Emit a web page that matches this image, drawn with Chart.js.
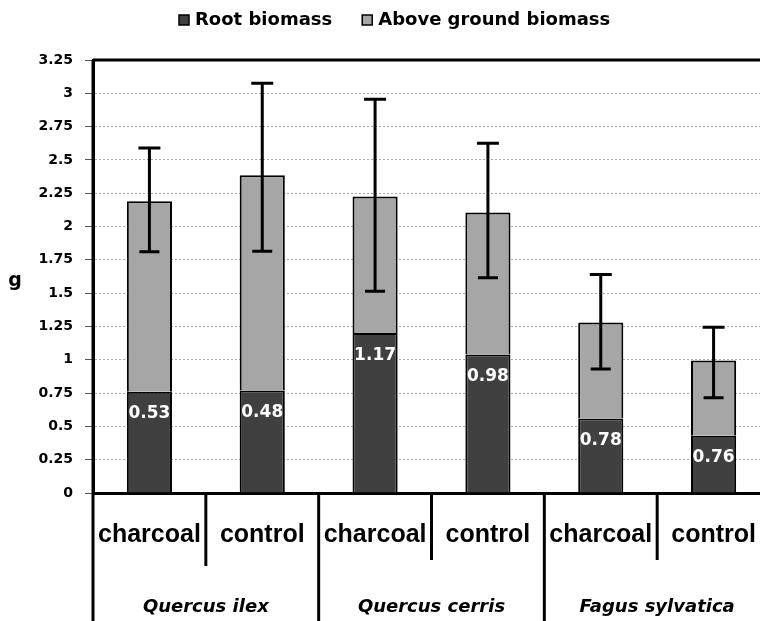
<!DOCTYPE html>
<html>
<head>
<meta charset="utf-8">
<title>Biomass</title>
<script src="https://cdn.jsdelivr.net/npm/chart.js@4.4.1/dist/chart.umd.min.js"></script>
<style>
  html, body { margin: 0; padding: 0; background: #fff; overflow: hidden; }
  #wrap { width: 780px; height: 621px; }
</style>
</head>
<body>
<div id="wrap"><canvas id="biomassChart" width="780" height="621"></canvas></div>
<script>
// mean biomass per treatment (g), grouped by species
var treatments = ['charcoal', 'control', 'charcoal', 'control', 'charcoal', 'control'];
var species = ['Quercus ilex', 'Quercus cerris', 'Fagus sylvatica'];
var rootBiomass = [0.76, 0.77, 1.20, 1.04, 0.56, 0.43];
var aboveBiomass = [1.43, 1.615, 1.025, 1.065, 0.72, 0.565];
// error on total biomass (upper / lower whisker)
var errorUp = [0.40, 0.69, 0.73, 0.52, 0.36, 0.25];
var errorDown = [0.38, 0.57, 0.71, 0.49, 0.35, 0.28];

var ROOT_COLOR = '#404040';
var ABOVE_COLOR = '#a6a6a6';
var CALIBRI = '"DejaVu Sans", sans-serif';

// error bars, root:shoot labels, category axis, legend
var biomassDecor = {
    id: 'biomassDecor',
    afterDatasetsDraw: function (chart) {
        var ctx = chart.ctx;
        var y = chart.scales.y;
        var tops = chart.getDatasetMeta(1).data;
        var roots = chart.getDatasetMeta(0).data;

        ctx.save();
        ctx.strokeStyle = '#000';
        ctx.lineWidth = 3;
        tops.forEach(function (bar, i) {
            var total = rootBiomass[i] + aboveBiomass[i];
            var yHi = y.getPixelForValue(total + errorUp[i]);
            var yLo = y.getPixelForValue(total - errorDown[i]);
            ctx.beginPath();
            ctx.moveTo(bar.x, yHi);
            ctx.lineTo(bar.x, yLo);
            ctx.moveTo(bar.x - 11, yHi);
            ctx.lineTo(bar.x + 11, yHi);
            ctx.moveTo(bar.x - 10, yLo);
            ctx.lineTo(bar.x + 10, yLo);
            ctx.stroke();
        });

        ctx.fillStyle = '#fff';
        ctx.font = 'bold 17px ' + CALIBRI;
        ctx.textAlign = 'center';
        ctx.textBaseline = 'middle';
        roots.forEach(function (bar, i) {
            var ratio = (rootBiomass[i] / aboveBiomass[i]).toFixed(2);
            ctx.fillText(ratio, bar.x, bar.y + 22);
        });
        ctx.restore();
    },
    afterDraw: function (chart) {
        var ctx = chart.ctx;
        var area = chart.chartArea;
        var x = chart.scales.x;
        var h = chart.height;

        ctx.save();
        ctx.strokeStyle = '#000';
        ctx.lineWidth = 3;

        // plot frame: top edge and left edge running down through the labels
        ctx.beginPath();
        ctx.moveTo(area.left, area.top);
        ctx.lineTo(area.right, area.top);
        ctx.moveTo(area.left, area.top);
        ctx.lineTo(area.left, h);
        ctx.stroke();

        // dividers between treatments (short) and species (long)
        for (var i = 0; i < treatments.length - 1; i++) {
            var bx = (x.getPixelForValue(i) + x.getPixelForValue(i + 1)) / 2;
            var endY = (i % 2 === 1) ? h : (i === 0 ? 566 : 560);
            ctx.beginPath();
            ctx.moveTo(bx, area.bottom);
            ctx.lineTo(bx, endY);
            ctx.stroke();
        }

        ctx.fillStyle = '#000';
        ctx.textAlign = 'center';
        ctx.textBaseline = 'middle';
        ctx.font = 'bold 25px "Liberation Sans", Arial, sans-serif';
        treatments.forEach(function (t, i) {
            ctx.fillText(t, x.getPixelForValue(i), 535);
        });

        ctx.font = 'italic bold 18px ' + CALIBRI;
        species.forEach(function (s, k) {
            var cx = (x.getPixelForValue(2 * k) + x.getPixelForValue(2 * k + 1)) / 2;
            ctx.fillText(s, cx, 607);
        });

        // y axis title
        ctx.font = 'bold 19px ' + CALIBRI;
        ctx.fillText('g', 15, 281);

        // legend
        ctx.font = 'bold 18px ' + CALIBRI;
        ctx.textAlign = 'left';
        ctx.lineWidth = 1.5;
        var lx = 179;
        chart.data.datasets.forEach(function (ds) {
            ctx.fillStyle = ds.backgroundColor;
            ctx.fillRect(lx, 15, 10, 10);
            ctx.strokeRect(lx, 15, 10, 10);
            ctx.fillStyle = '#000';
            ctx.fillText(ds.label, lx + 16, 20);
            lx += 16 + ctx.measureText(ds.label).width + 30;
        });
        ctx.restore();
    }
};

new Chart(document.getElementById('biomassChart').getContext('2d'), {
    type: 'bar',
    data: {
        labels: treatments,
        datasets: [{
            label: 'Root biomass',
            data: rootBiomass,
            backgroundColor: ROOT_COLOR,
            borderColor: '#000',
            borderWidth: 2
        }, {
            label: 'Above ground biomass',
            data: aboveBiomass,
            backgroundColor: ABOVE_COLOR,
            borderColor: '#000',
            borderWidth: 2
        }]
    },
    options: {
        responsive: false,
        animation: false,
        layout: {
            padding: { top: 60, right: 10, left: 0, bottom: 0 }
        },
        datasets: {
            bar: { categoryPercentage: 1, barPercentage: 0.4 }
        },
        plugins: {
            legend: { display: false },
            tooltip: { enabled: false }
        },
        scales: {
            x: {
                stacked: true,
                grid: { display: false },
                ticks: { display: false },
                border: { color: '#000', width: 3 },
                afterFit: function (scale) { scale.height = 128; }
            },
            y: {
                stacked: true,
                min: 0,
                max: 3.25,
                ticks: {
                    stepSize: 0.25,
                    padding: 12,
                    color: '#000',
                    font: { family: CALIBRI, size: 14, weight: 'bold' },
                    callback: function (v) { return String(+v.toFixed(2)); }
                },
                grid: {
                    color: '#a8a8a8',
                    lineWidth: 1,
                    tickLength: 8,
                    tickColor: '#555',
                    tickBorderDash: []
                },
                border: { color: '#000', width: 3, dash: [2, 2] },
                afterFit: function (scale) { scale.width = 93; }
            }
        }
    },
    plugins: [biomassDecor]
});
</script>
</body>
</html>
